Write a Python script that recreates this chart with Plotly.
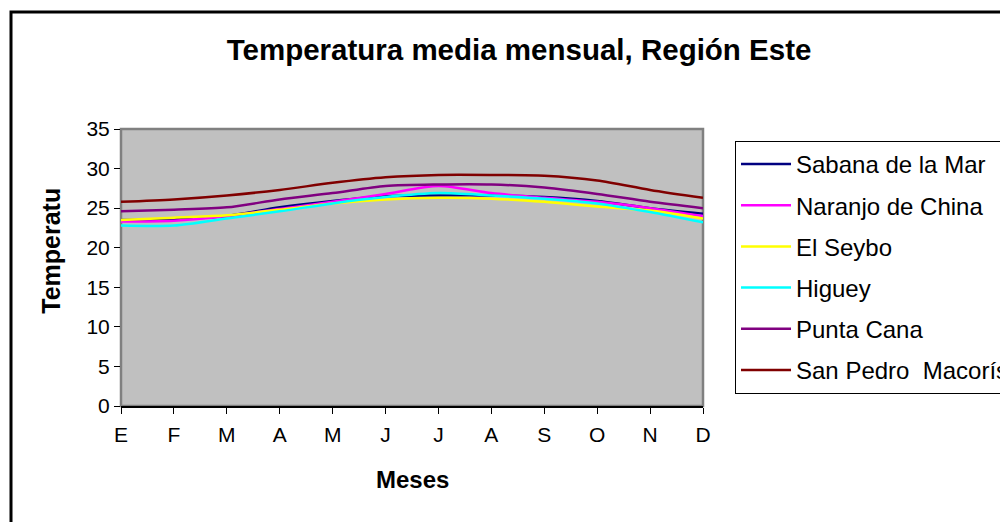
import plotly.graph_objects as go

# Datos: temperatura media mensual (°C), Región Este
meses = ["E", "F", "M", "A", "M", "J", "J", "A", "S", "O", "N", "D"]

sabana_de_la_mar = [23.5, 23.6, 24.0, 25.1, 25.9, 26.5, 26.6, 26.6, 26.4, 25.9, 25.0, 24.3]
naranjo_de_china = [23.3, 23.4, 24.0, 24.9, 25.8, 26.8, 27.8, 26.9, 26.3, 25.8, 25.0, 24.0]
el_seybo = [23.5, 23.8, 24.1, 24.8, 25.6, 26.1, 26.3, 26.2, 25.8, 25.2, 24.7, 23.7]
higuey = [22.8, 22.8, 23.7, 24.6, 25.6, 26.4, 26.9, 26.6, 26.2, 25.6, 24.5, 23.2]
punta_cana = [24.6, 24.8, 25.1, 26.1, 26.9, 27.8, 28.0, 28.0, 27.6, 26.8, 25.8, 25.0]
san_pedro_macoris = [25.8, 26.1, 26.6, 27.3, 28.2, 28.9, 29.2, 29.2, 29.1, 28.5, 27.3, 26.3]

series = [
    ("Sabana de la Mar", sabana_de_la_mar, "#000080"),
    ("Naranjo de China", naranjo_de_china, "#FF00FF"),
    ("El Seybo", el_seybo, "#FFFF00"),
    ("Higuey", higuey, "#00FFFF"),
    ("Punta Cana", punta_cana, "#800080"),
    ("San Pedro  Macorís", san_pedro_macoris, "#800000"),
]

FONT = "Arial, Liberation Sans, sans-serif"

fig = go.Figure()

x_idx = list(range(len(meses)))
for i, (nombre, valores, color) in enumerate(series):
    fig.add_trace(go.Scatter(
        x=x_idx,
        y=valores,
        mode="lines",
        name=nombre,
        legendgroup=f"g{i}",
        line=dict(color=color, width=2.5, shape="spline", smoothing=0.8),
    ))

# la página añade 8 px de margen arriba y a la izquierda
fig.update_layout(
    width=1008,
    height=522,
    margin=dict(l=113, r=313, t=121, b=124, autoexpand=False),
    paper_bgcolor="white",
    plot_bgcolor="#C0C0C0",
    font=dict(family=FONT, color="black", size=21),
    title=dict(
        text="<b>Temperatura media mensual, Región Este</b>",
        font=dict(family=FONT, size=29.5, color="black"),
        x=0.507, xanchor="center", xref="container",
        y=0.9195, yanchor="middle", yref="container",
    ),
    showlegend=True,
    legend=dict(
        x=1.055, xanchor="left",
        y=0.957, yanchor="top",
        bgcolor="white",
        bordercolor="black",
        borderwidth=1,
        font=dict(family=FONT, size=24, color="black"),
        tracegroupgap=7,
        itemwidth=50,
    ),
)

fig.update_xaxes(
    tickmode="array",
    tickvals=x_idx,
    ticktext=meses,
    range=[0, len(meses) - 1],
    showgrid=False,
    zeroline=False,
    showline=True,
    linecolor="black",
    linewidth=2,
    ticks="outside",
    ticklen=6,
    tickcolor="black",
    tickfont=dict(family=FONT, size=21, color="black"),
    ticklabelstandoff=3,
)

fig.update_yaxes(
    range=[0, 35],
    tick0=0,
    dtick=5,
    showgrid=False,
    zeroline=False,
    showline=False,
    ticks="outside",
    ticklen=6,
    tickcolor="black",
    tickfont=dict(family=FONT, size=21, color="black"),
)

# Borde gris del área de trazado
fig.add_shape(
    type="rect", xref="paper", yref="paper",
    x0=0, x1=1, y0=0, y1=1,
    line=dict(color="#808080", width=2.5),
    layer="below",
)

# Marco exterior del gráfico
fig.add_shape(
    type="rect", xref="paper", yref="paper",
    x0=-0.189, x1=2.0, y0=-1.0, y1=1.4224,
    line=dict(color="black", width=3),
    fillcolor="rgba(0,0,0,0)",
)

# Títulos de los ejes
fig.add_annotation(
    text="<b>Temperatu</b>",
    xref="paper", yref="paper",
    x=-0.148, y=0.56,
    textangle=-90,
    showarrow=False,
    font=dict(family=FONT, size=25, color="black"),
)
fig.add_annotation(
    text="<b>Meses</b>",
    xref="paper", yref="paper",
    x=0.5, y=-0.321,
    showarrow=False,
    font=dict(family=FONT, size=24, color="black"),
)

fig.write_html("out.html")
